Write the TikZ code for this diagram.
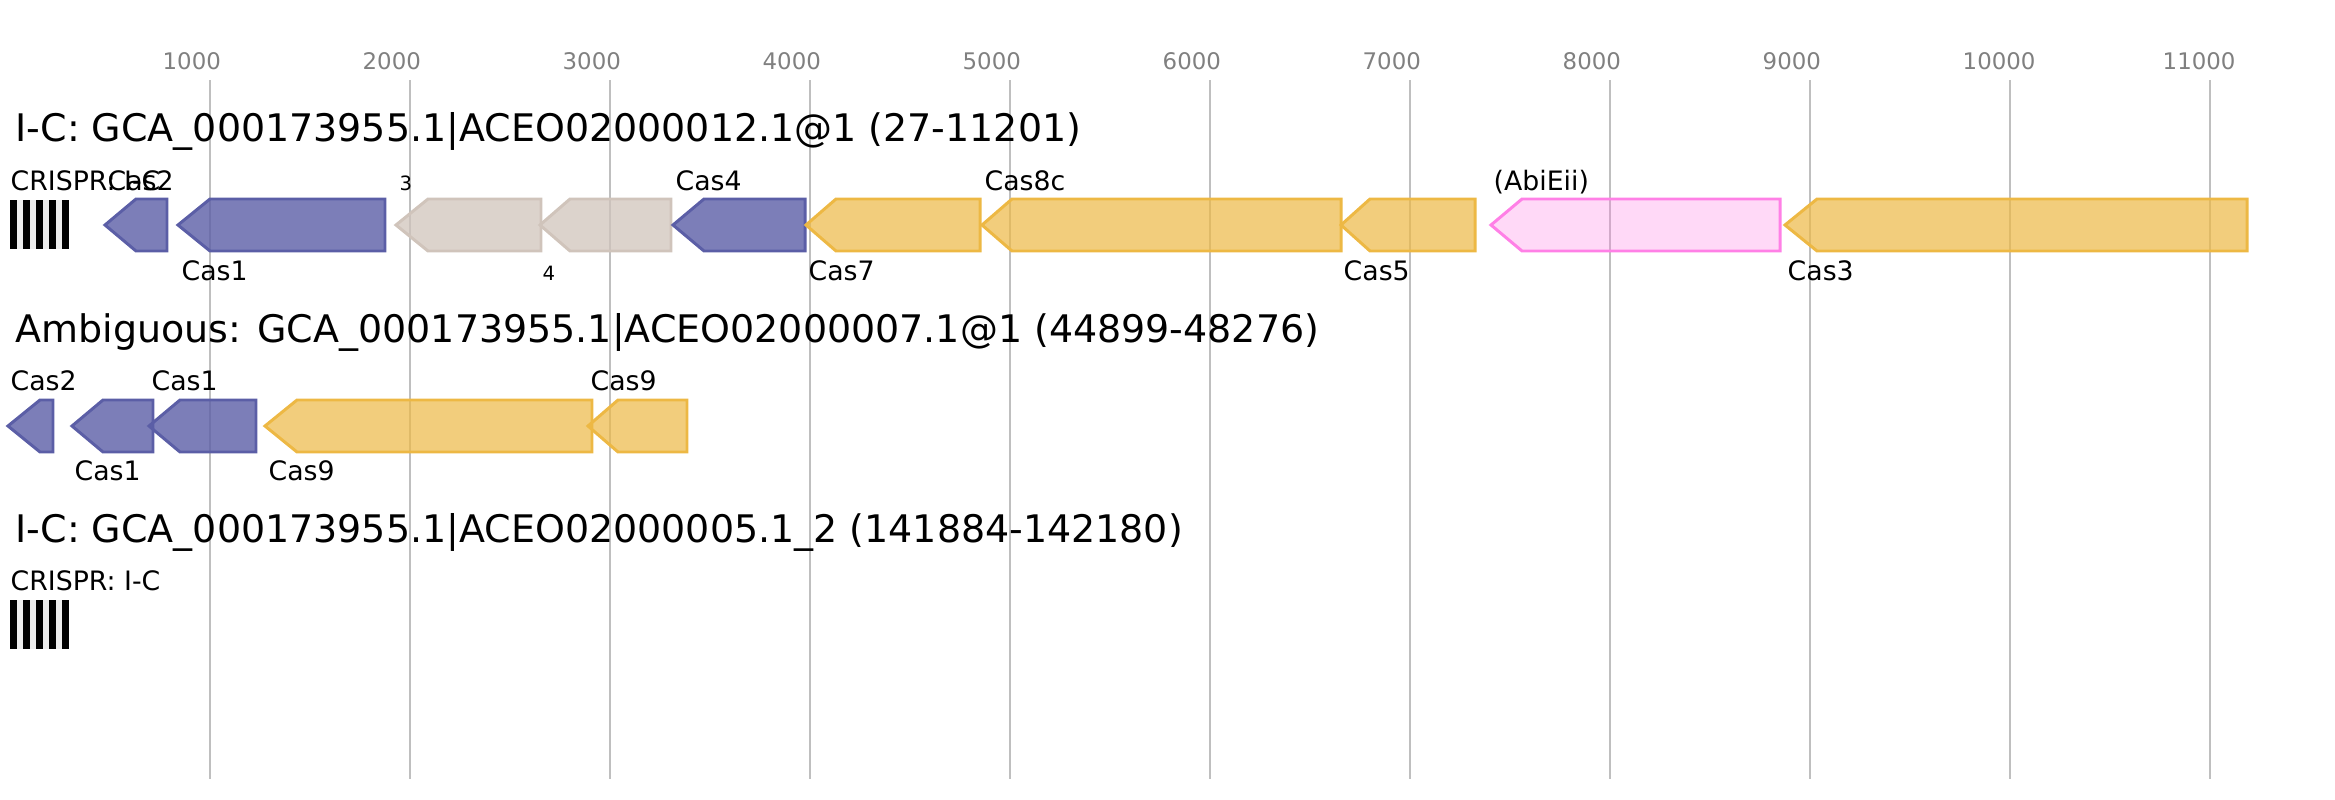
\documentclass[tikz,border=0pt]{standalone}
\usepackage{fontspec}
\setmainfont{DejaVu Sans}
\definecolor{casblue}{HTML}{5B5EA6}
\definecolor{casgold}{HTML}{EDB844}
\definecolor{casother}{HTML}{D0C4BB}
\definecolor{casabi}{HTML}{FF80E6}
\definecolor{gridgray}{HTML}{BFBFBF}
\definecolor{tickgray}{HTML}{808080}
\begin{document}
\begin{tikzpicture}[x=0.01cm, y=-0.01cm,
    bluegene/.style={draw=casblue, fill=casblue, fill opacity=0.8, line width=0.85pt},
    goldgene/.style={draw=casgold, fill=casgold, fill opacity=0.7, line width=0.85pt},
    othergene/.style={draw=casother, fill=casother, fill opacity=0.75, line width=0.85pt},
    abigene/.style={draw=casabi, fill=casabi, fill opacity=0.3, line width=0.85pt},
    gridline/.style={draw=gridgray, line width=0.6pt},
    tick/.style={anchor=base west, inner sep=0pt, text=tickgray, font=\fontsize{6.5}{8}\selectfont},
    title/.style={anchor=base west, inner sep=0pt, font=\fontsize{10.8}{13}\selectfont},
    lab/.style={anchor=base west, inner sep=0pt, font=\fontsize{7.6}{9}\selectfont},
    smalllab/.style={anchor=base west, inner sep=0pt, font=\fontsize{5.6}{7}\selectfont}]
  \useasboundingbox (0,0) rectangle (2335,800);
  % scale and grid
  \foreach \k in {1,...,11}{
    \draw[gridline] (10+200*\k,80) -- (10+200*\k,779);
    \node[tick] (tick\k) at (10+200*\k-48,70) {\k000};
  }
  % I-C: ACEO02000012.1
  \node[title] (title1) at (15,141) {I-C: GCA\_000173955.1|ACEO02000012.1@1 (27-11201)};
  \fill[black!7] (10,200) rectangle (69,249);
  \foreach \i in {0,...,4}
    \fill (10+13*\i,200) rectangle (16.5+13*\i,249);
  \node[lab] (crispr1) at (10,190) {CRISPR: I-C};
  \draw[bluegene] (105,225) -- (136,199) -- (167,199) -- (167,251) -- (136,251) -- cycle;
  \node[lab] (cas2a) at (107,190) {Cas2};
  \draw[bluegene] (178,225) -- (210,199) -- (385,199) -- (385,251) -- (210,251) -- cycle;
  \node[lab] (cas1a) at (181,280) {Cas1};
  \draw[othergene] (396,225) -- (428,199) -- (541,199) -- (541,251) -- (428,251) -- cycle;
  \node[smalllab] (gene3) at (399,190) {3};
  \draw[othergene] (540,225) -- (570,199) -- (671,199) -- (671,251) -- (570,251) -- cycle;
  \node[smalllab] (gene4) at (542,280) {4};
  \draw[bluegene] (673,225) -- (704,199) -- (805,199) -- (805,251) -- (704,251) -- cycle;
  \node[lab] (cas4) at (675,190) {Cas4};
  \draw[goldgene] (806,225) -- (836,199) -- (980,199) -- (980,251) -- (836,251) -- cycle;
  \node[lab] (cas7) at (808,280) {Cas7};
  \draw[goldgene] (982,225) -- (1012,199) -- (1341,199) -- (1341,251) -- (1012,251) -- cycle;
  \node[lab] (cas8c) at (984,190) {Cas8c};
  \draw[goldgene] (1341,225) -- (1370,199) -- (1475,199) -- (1475,251) -- (1370,251) -- cycle;
  \node[lab] (cas5) at (1343,280) {Cas5};
  \draw[abigene] (1491,225) -- (1522,199) -- (1780,199) -- (1780,251) -- (1522,251) -- cycle;
  \node[lab] (abieii) at (1493,190) {(AbiEii)};
  \draw[goldgene] (1785,225) -- (1817,199) -- (2247,199) -- (2247,251) -- (1817,251) -- cycle;
  \node[lab] (cas3) at (1787,280) {Cas3};
  % Ambiguous: ACEO02000007.1
  \node[title] (title2) at (15,342) {Ambiguous: GCA\_000173955.1|ACEO02000007.1@1 (44899-48276)};
  \draw[bluegene] (8,426) -- (40,400) -- (53,400) -- (53,452) -- (40,452) -- cycle;
  \node[lab] (cas2b) at (10,390) {Cas2};
  \draw[bluegene] (72,426) -- (103,400) -- (153,400) -- (153,452) -- (103,452) -- cycle;
  \node[lab] (cas1b) at (74,480) {Cas1};
  \draw[bluegene] (149,426) -- (180,400) -- (256,400) -- (256,452) -- (180,452) -- cycle;
  \node[lab] (cas1c) at (151,390) {Cas1};
  \draw[goldgene] (265,426) -- (297,400) -- (592,400) -- (592,452) -- (297,452) -- cycle;
  \node[lab] (cas9a) at (268,480) {Cas9};
  \draw[goldgene] (588,426) -- (618,400) -- (687,400) -- (687,452) -- (618,452) -- cycle;
  \node[lab] (cas9b) at (590,390) {Cas9};
  % I-C: ACEO02000005.1
  \node[title] (title3) at (15,542) {I-C: GCA\_000173955.1|ACEO02000005.1\_2 (141884-142180)};
  \fill[black!7] (10,600) rectangle (69,649);
  \foreach \i in {0,...,4}
    \fill (10+13*\i,600) rectangle (16.5+13*\i,649);
  \node[lab] (crispr3) at (10,590) {CRISPR: I-C};
\end{tikzpicture}
\end{document}
